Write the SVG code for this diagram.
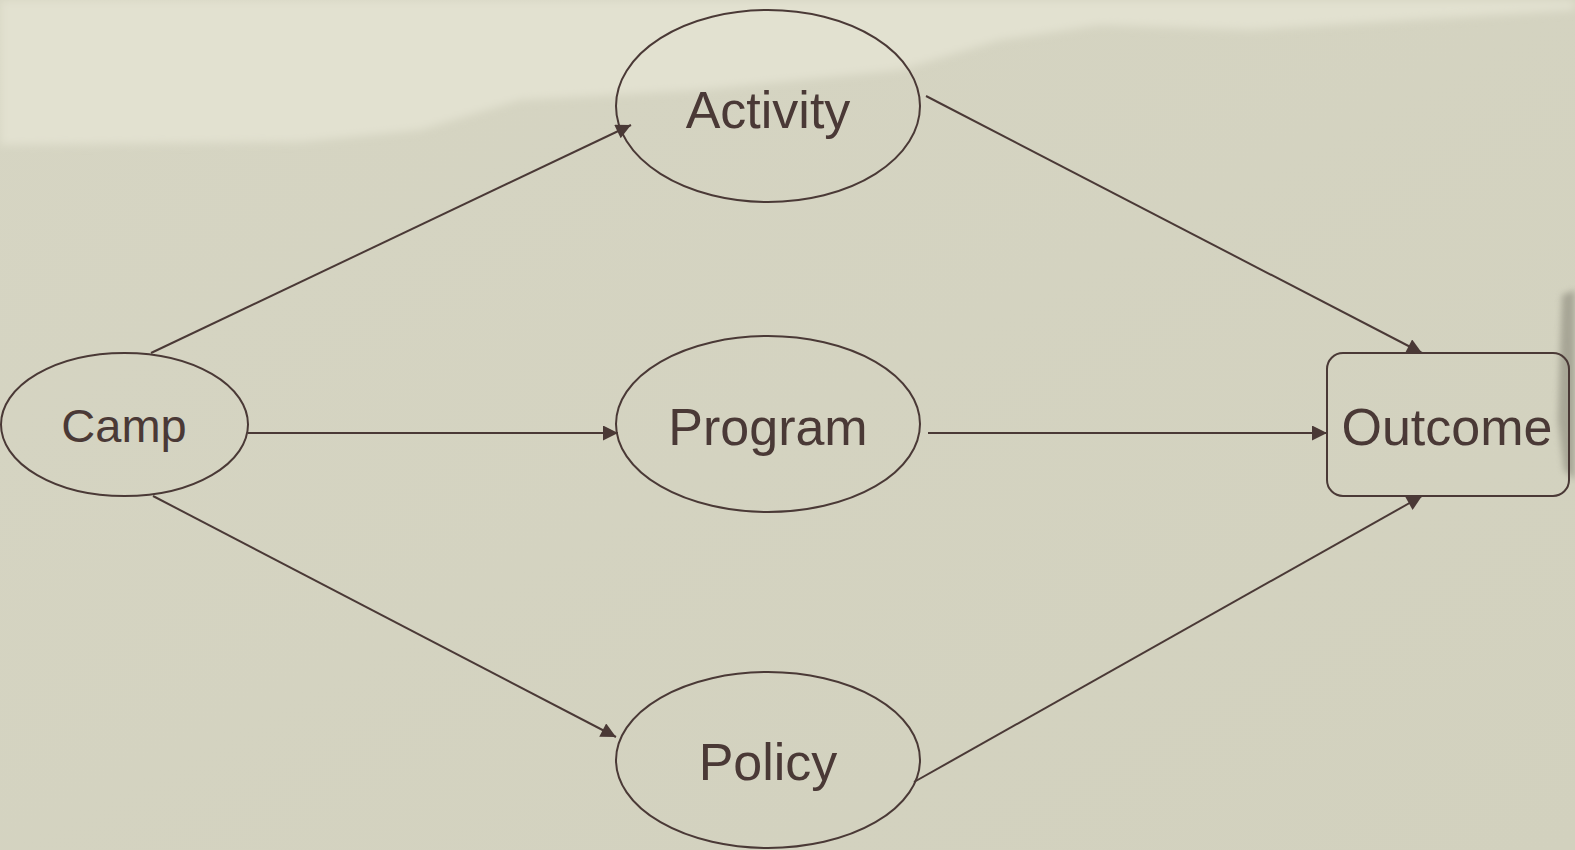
<svg xmlns="http://www.w3.org/2000/svg" width="1575" height="850" viewBox="0 0 1575 850">
<defs>
<marker id="arr" viewBox="0 0 10 10" refX="10" refY="5" markerUnits="userSpaceOnUse" markerWidth="16" markerHeight="15" orient="auto">
<path d="M0,0 L10,5 L0,10 z" fill="#4a3936"/>
</marker>
<linearGradient id="bg" x1="0" y1="0" x2="1" y2="1">
<stop offset="0" stop-color="#d6d5c3"/>
<stop offset="1" stop-color="#d2d1be"/>
</linearGradient>
<filter id="blur" x="-20%" y="-20%" width="140%" height="140%"><feGaussianBlur stdDeviation="4"/></filter>
<filter id="blur2" x="-100%" y="-20%" width="300%" height="140%"><feGaussianBlur stdDeviation="3"/></filter>
</defs>
<style>
.node{fill:none;stroke:#4a3936;stroke-width:2}
.lbl{font-family:"Liberation Sans",Arial,sans-serif;font-size:52px;fill:#4a3936;text-anchor:middle}
.edge{stroke:#4a3936;stroke-width:2;fill:none;marker-end:url(#arr)}
</style>
<rect width="1575" height="850" fill="url(#bg)"/>
<path d="M0,0 L1575,0 L1575,10 L1250,30 L1100,25 L1000,40 L900,70 L700,90 L520,100 L420,130 L300,142 L0,145 z" fill="#e2e1d0" filter="url(#blur)"/>
<path d="M1562,295 L1575,290 L1575,480 L1564,470 L1558,420 L1560,350 z" fill="#8a887a" filter="url(#blur2)" opacity="0.6"/>
<g id="connectors">
<line class="edge" x1="151" y1="353" x2="631" y2="125"/>
<line class="edge" x1="248" y1="433" x2="618" y2="433"/>
<line class="edge" x1="153" y1="496" x2="616" y2="737"/>
<line class="edge" x1="926" y1="96" x2="1422" y2="353"/>
<line class="edge" x1="928" y1="433" x2="1327" y2="433"/>
<line class="edge" x1="914" y1="782" x2="1422" y2="496"/>
</g>
<g id="camp"><ellipse class="node" cx="124.5" cy="424.5" rx="123.5" ry="71.5"/><text class="lbl" x="124" y="442" style="font-size:47px">Camp</text></g>
<g id="activity"><ellipse class="node" cx="768" cy="106" rx="152" ry="96"/><text class="lbl" x="768" y="128">Activity</text></g>
<g id="program"><ellipse class="node" cx="768" cy="424" rx="152" ry="88"/><text class="lbl" x="768" y="445">Program</text></g>
<g id="policy"><ellipse class="node" cx="768" cy="760" rx="152" ry="88"/><text class="lbl" x="768" y="780">Policy</text></g>
<g id="outcome"><rect class="node" x="1327" y="353" width="242" height="143" rx="16"/><text class="lbl" x="1447" y="445">Outcome</text></g>
</svg>
